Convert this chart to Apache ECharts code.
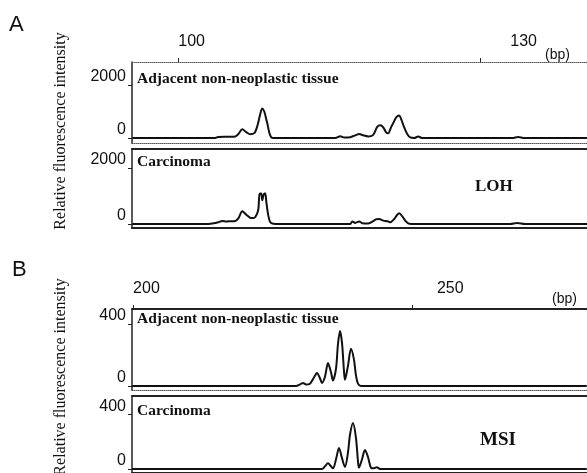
<!DOCTYPE html>
<html>
<head>
<meta charset="utf-8">
<script src="https://cdn.jsdelivr.net/npm/echarts@6/dist/echarts.min.js"></script>
<style>
  html, body { margin: 0; padding: 0; background: #fff; }
  #chart { width: 587px; height: 473px; }
</style>
</head>
<body>
<div id="chart"></div>
<script>
// Panel A (LOH): fragment size (bp) and fluorescence
const aNormalBp = [95.43, 103.67, 103.97, 104.97, 105.66, 105.96, 106.36, 106.75, 107.15, 107.55, 107.85, 108.14, 108.34, 108.54, 108.74, 108.84, 109.04, 109.24, 109.43, 115.59, 116.09, 116.48, 117.08, 117.58, 117.97, 118.37, 118.87, 119.36, 119.76, 120.06, 120.36, 120.66, 120.85, 121.15, 121.35, 121.65, 121.95, 122.15, 122.44, 122.74, 123.04, 123.44, 123.83, 124.23, 133.17, 133.76, 134.36, 140.62];
const aNormalInt = [0, 0, 40, 50, 60, 150, 330, 220, 140, 180, 450, 900, 1110, 1000, 700, 560, 200, 20, 0, 0, 70, 20, 30, 100, 150, 100, 60, 120, 420, 480, 400, 200, 180, 420, 560, 780, 850, 700, 400, 150, 20, 0, 55, 0, 0, 40, 0, 0];
const aTumorBp = [95.43, 102.68, 103.38, 103.97, 104.37, 104.77, 105.16, 105.66, 105.96, 106.36, 106.75, 107.15, 107.35, 107.65, 107.94, 108.04, 108.14, 108.24, 108.34, 108.44, 108.54, 108.64, 108.74, 108.94, 109.14, 109.43, 110.13, 117.08, 117.28, 117.58, 117.97, 118.27, 118.87, 119.36, 119.66, 119.96, 120.36, 120.85, 121.05, 121.45, 121.75, 121.95, 122.24, 122.54, 122.84, 123.14, 132.97, 133.66, 134.46, 140.62];
const aTumorInt = [0, 0, 20, 60, 110, 90, 100, 110, 200, 455, 330, 220, 210, 250, 500, 1000, 1085, 1085, 850, 1000, 1085, 1085, 800, 300, 60, 10, 0, 0, 90, 40, 90, 30, 20, 100, 170, 175, 120, 90, 60, 180, 330, 385, 280, 120, 20, 0, 0, 35, 0, 0];

// Panel B (MSI)
const bNormalBp = [199.82, 229.21, 229.93, 230.47, 231.00, 231.72, 232.44, 232.97, 233.51, 233.87, 234.41, 234.95, 235.48, 235.84, 236.38, 236.74, 237.10, 237.46, 237.81, 237.99, 238.53, 239.07, 239.61, 239.96, 240.32, 240.86, 281.36];
const bNormalInt = [0, 0, 10, 20, 10, 15, 55, 84, 50, 20, 60, 148, 90, 35, 110, 270, 355, 280, 100, 40, 130, 240, 170, 70, 15, 0, 0];
const bTumorBp = [199.82, 233.87, 234.41, 234.95, 235.48, 235.84, 236.38, 236.92, 237.46, 237.99, 238.53, 238.89, 239.43, 239.96, 240.32, 240.50, 241.04, 241.58, 242.11, 242.65, 243.19, 243.73, 244.27, 281.36];
const bTumorInt = [0, 0, 20, 42, 20, 5, 70, 155, 80, 15, 120, 250, 337, 230, 60, 10, 70, 140, 90, 10, 5, 14, 0, 0];

// tick labels
const aXTicks = [100, 130];
const bXTicks = [200, 250];
const aYTicks = [0, 2000];
const bYTicks = [0, 400];

const sans = 'Liberation Sans';
const serif = 'Liberation Serif';

const aRange = [95.4, 140.6];
const bRange = [199.8, 281.4];

function pairs(xs, ys) {
  return xs.map((x, i) => [x, ys[i]]);
}

const chart = echarts.init(document.getElementById('chart'));

// top x axis of a sub panel, optionally with ticks + labels
function topAxis(grid, range, ticks, shifts, line) {
  const rich = {};
  shifts.forEach((s, i) => { rich['t' + i] = { padding: [0, 0, 0, s], fontFamily: sans, fontSize: 16, color: '#111' }; });
  return {
    type: 'value', gridIndex: grid, position: 'top', min: range[0], max: range[1],
    splitLine: { show: false },
    axisLine: { show: true, onZero: false, lineStyle: line },
    axisTick: { show: !!ticks, customValues: ticks || [], length: 4, lineStyle: { color: '#222', width: 1 } },
    axisLabel: {
      show: !!ticks, customValues: ticks || [], align: 'left', margin: 12,
      formatter: (v) => {
        const i = ticks.indexOf(v);
        return '{t' + i + '|' + v + '}';
      },
      rich: rich
    }
  };
}

function bottomAxis(grid, range, line) {
  return {
    type: 'value', gridIndex: grid, position: 'bottom', min: range[0], max: range[1],
    splitLine: { show: false },
    axisLine: { show: true, onZero: false, lineStyle: line },
    axisTick: { show: false },
    axisLabel: { show: false }
  };
}

function leftAxis(grid, min, max, ticks) {
  return {
    type: 'value', gridIndex: grid, min: min, max: max, position: 'left',
    splitLine: { show: false },
    axisLine: { show: true, onZero: false, lineStyle: { color: '#222', width: 1.5 } },
    axisTick: { show: true, customValues: ticks, length: 4, lineStyle: { color: '#222', width: 1 } },
    axisLabel: {
      customValues: ticks, verticalAlign: 'bottom', margin: 6,
      fontFamily: sans, fontSize: 16, color: '#111',
      formatter: (v) => String(v)
    }
  };
}

function trace(idx, data) {
  return {
    type: 'line', xAxisIndex: idx * 2, yAxisIndex: idx, data: data,
    showSymbol: false, smooth: 0.3, silent: true,
    lineStyle: { color: '#111', width: 2 }
  };
}

const thin = { color: '#555', width: 1, type: 'dotted' };
const thick = { color: '#222', width: 2 };

function label(text, x, y, font, rotated) {
  return {
    type: 'text', x: x, y: y, rotation: rotated ? Math.PI / 2 : 0,
    style: { text: text, font: font, fill: '#111', align: rotated ? 'center' : 'left', verticalAlign: 'middle' }
  };
}

const options = {
  animation: false,
  backgroundColor: '#fff',
  grid: [
    { left: 132, right: 0, top: 62, height: 81 },
    { left: 132, right: 0, top: 149, height: 79 },
    { left: 132, right: 0, top: 309, height: 81 },
    { left: 132, right: 0, top: 396, height: 79 }
  ],
  xAxis: [
    topAxis(0, aRange, aXTicks, [0, 30], thin),
    bottomAxis(0, aRange, thin),
    topAxis(1, aRange, null, [], thick),
    bottomAxis(1, aRange, thick),
    topAxis(2, bRange, bXTicks, [0, 25], thick),
    bottomAxis(2, bRange, thin),
    topAxis(3, bRange, null, [], thick),
    bottomAxis(3, bRange, thick)
  ],
  yAxis: [
    leftAxis(0, -189, 2868, aYTicks),
    leftAxis(1, -143, 2679, aYTicks),
    leftAxis(2, -26, 497, bYTicks),
    leftAxis(3, -29, 536, bYTicks)
  ],
  series: [
    trace(0, pairs(aNormalBp, aNormalInt)),
    trace(1, pairs(aTumorBp, aTumorInt)),
    trace(2, pairs(bNormalBp, bNormalInt)),
    trace(3, pairs(bTumorBp, bTumorInt))
  ],
  graphic: [
    label('A', 9, 25, '22px ' + sans),
    label('B', 12, 270, '22px ' + sans),
    label('Relative fluorescence intensity', 61, 131, '16px ' + serif, true),
    label('Relative fluorescence intensity', 61, 377, '16px ' + serif, true),
    label('(bp)', 545, 55, '14px ' + sans),
    label('(bp)', 552, 299, '14px ' + sans),
    label('Adjacent non-neoplastic tissue', 137, 79, 'bold 15.5px ' + serif),
    label('Carcinoma', 137, 162, 'bold 15.5px ' + serif),
    label('Adjacent non-neoplastic tissue', 137, 319, 'bold 15.5px ' + serif),
    label('Carcinoma', 137, 411, 'bold 15.5px ' + serif),
    label('LOH', 475, 187, 'bold 17px ' + serif),
    label('MSI', 480, 440, 'bold 19px ' + serif)
  ]
};

chart.setOption(options);
</script>
</body>
</html>
